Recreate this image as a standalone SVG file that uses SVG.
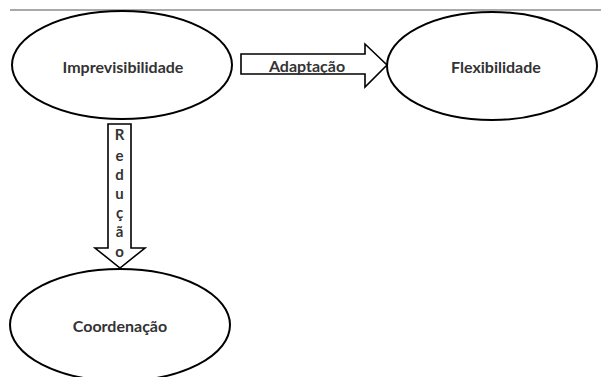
<svg xmlns="http://www.w3.org/2000/svg" width="601" height="377" viewBox="0 0 601 377">
<style>
.n{fill:#fff;stroke:#000;stroke-width:2}
.t{font-family:Lato,"Open Sans",sans-serif;font-size:16px;font-weight:bold;fill:#333;text-anchor:middle}
.a{fill:#fff;stroke:#000;stroke-width:1.6;stroke-linejoin:miter}
.v{font-family:Lato,"Open Sans",sans-serif;font-size:15px;font-weight:bold;fill:#333;text-anchor:middle}
</style>
<rect width="601" height="377" fill="#fff"/>
<line x1="10" y1="10" x2="601" y2="10" stroke="#555" stroke-width="1.2"/>
<g id="connectors">
<g id="adaptacao">
<path class="a" d="M241,54 H365 V44 L387,65 L365,87 V74 H241 Z"/>
<text class="t" x="307" y="72">Adaptação</text>
</g>
<g id="reducao">
<path class="a" d="M108,124 H131 V248 H145 L120,268 L95,248 H108 Z"/>
<text class="v" x="119.5" y="140">R</text>
<text class="v" x="119.5" y="161">e</text>
<text class="v" x="119.5" y="180">d</text>
<text class="v" x="119.5" y="199">u</text>
<text class="v" x="119.5" y="218">ç</text>
<text class="v" x="119.5" y="237">ã</text>
<text class="v" x="119.5" y="257">o</text>
</g>
</g>
<g id="imprevisibilidade">
<ellipse class="n" cx="122" cy="65" rx="110" ry="54"/>
<text class="t" x="123" y="73">Imprevisibilidade</text>
</g>
<g id="flexibilidade">
<ellipse class="n" cx="492" cy="66" rx="105" ry="54"/>
<text class="t" font-size="16.5" x="496" y="73">Flexibilidade</text>
</g>
<g id="coordenacao">
<ellipse class="n" cx="120" cy="325" rx="110" ry="56"/>
<text class="t" x="120" y="332">Coordenação</text>
</g>
</svg>
